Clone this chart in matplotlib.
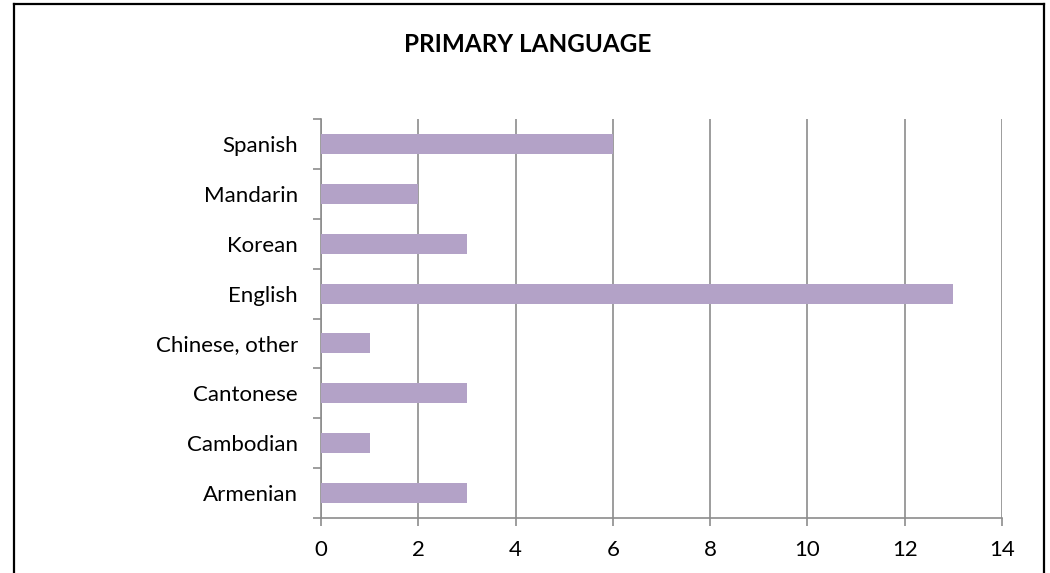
import matplotlib
matplotlib.use("Agg")
import matplotlib.pyplot as plt
from matplotlib.lines import Line2D

categories = ["Armenian", "Cambodian", "Cantonese", "Chinese, other", "English", "Korean", "Mandarin", "Spanish"]
values = [3, 1, 3, 1, 13, 3, 2, 6]
xticks = [0, 2, 4, 6, 8, 10, 12, 14]

plt.rcParams['font.family'] = ['Lato', 'DejaVu Sans']

W, H = 1050, 573
fig = plt.figure(figsize=(W/100, H/100), dpi=100)
ax = fig.add_axes([321/W, 1 - 518/H, (1002-321)/W, (518-119)/H])

grid_c = '#8c8c8c'
ax.barh(range(len(categories)), values, height=0.4, color='#b3a2c7', zorder=3)
ax.set_xlim(0, 14)
ax.set_ylim(-0.5, len(categories) - 0.5)
ax.set_xticks(xticks)
ax.set_xticklabels([str(t) for t in xticks], fontsize=16)
ax.set_yticks(range(len(categories)))
ax.set_yticklabels(categories, fontsize=16)
ax.set_yticks([i - 0.5 for i in range(len(categories) + 1)], minor=True)
ax.tick_params(axis='y', which='major', length=0, pad=16.5)
ax.tick_params(axis='y', which='minor', length=6, color=grid_c, width=1.2, direction='out')
ax.tick_params(axis='x', which='major', length=6, color=grid_c, width=1.2, direction='out', pad=10)
ax.grid(axis='x', color=grid_c, linewidth=1.2, zorder=0)
for s in ['top', 'right']:
    ax.spines[s].set_visible(False)
for s in ['left', 'bottom']:
    ax.spines[s].set_color(grid_c)
    ax.spines[s].set_linewidth(1.2)

fig.text(528/W, 1 - 44/H, "PRIMARY LANGUAGE", ha='center', va='center', fontsize=17.5, fontweight='bold')

lw = 1.6
fig.add_artist(Line2D([13.5/W, 13.5/W], [0, 1 - 3.5/H], color='black', lw=lw, transform=fig.transFigure))
fig.add_artist(Line2D([13.5/W, 1043.5/W], [1 - 3.5/H, 1 - 3.5/H], color='black', lw=lw, transform=fig.transFigure))
fig.add_artist(Line2D([1043.5/W, 1043.5/W], [0, 1 - 3.5/H], color='black', lw=lw, transform=fig.transFigure))

fig.savefig("out.png", dpi=100)
